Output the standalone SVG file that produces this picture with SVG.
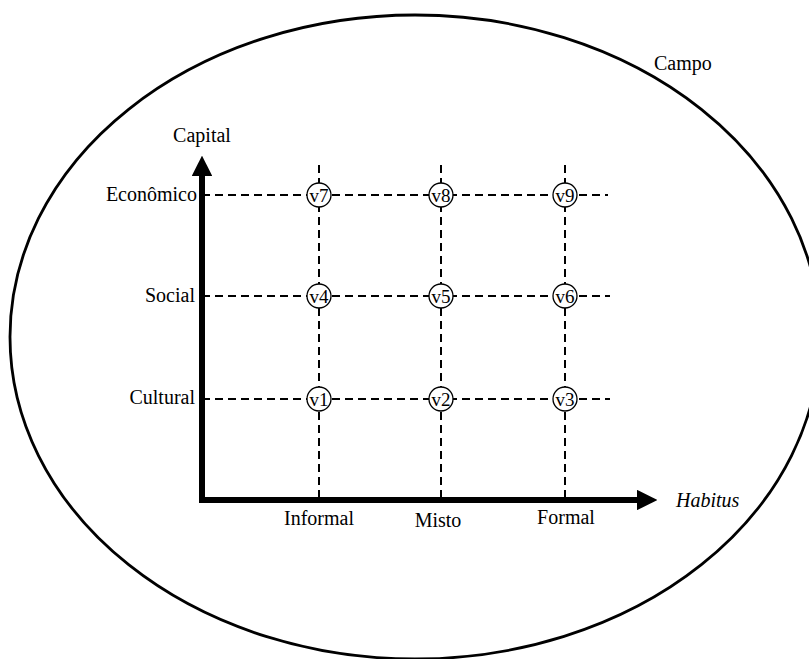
<svg xmlns="http://www.w3.org/2000/svg" width="809" height="659" viewBox="0 0 809 659">
<style>
text{font-family:"Liberation Serif","Times New Roman",serif;font-size:20px;fill:#000}
.dash{stroke:#000;stroke-width:2;stroke-dasharray:8 5;fill:none}
.node circle{fill:#fff;stroke:#000;stroke-width:1.3}
.node text{text-anchor:middle;font-size:19px}
.axis{stroke:#000;stroke-width:6;fill:none}
</style>
<defs>
<marker id="ah" viewBox="0 0 10 10" refX="0" refY="5" markerWidth="3.4" markerHeight="3.4" orient="auto" markerUnits="strokeWidth">
<path d="M0,0 L10,5 L0,10 Z" fill="#000"/>
</marker>
</defs>
<ellipse cx="415" cy="337" rx="405" ry="322" fill="none" stroke="#000" stroke-width="2.8"/>
<text x="654" y="70">Campo</text>
<g id="connectors">
<line class="dash" x1="202" y1="195" x2="608" y2="195"/>
<line class="dash" x1="202" y1="296" x2="610" y2="296"/>
<line class="dash" x1="202" y1="399" x2="610" y2="399"/>
<line class="dash" x1="319" y1="165" x2="319" y2="500"/>
<line class="dash" x1="441" y1="165" x2="441" y2="500"/>
<line class="dash" x1="565" y1="165" x2="565" y2="500"/>
<line class="axis" x1="202" y1="503" x2="202" y2="176" marker-end="url(#ah)"/>
<line class="axis" x1="199" y1="500" x2="637" y2="500" marker-end="url(#ah)"/>
</g>
<text x="202" y="142" text-anchor="middle">Capital</text>
<text x="197" y="201" text-anchor="end">Econômico</text>
<text x="195" y="302" text-anchor="end">Social</text>
<text x="195" y="404" text-anchor="end">Cultural</text>
<text x="319" y="525" text-anchor="middle">Informal</text>
<text x="438" y="527" text-anchor="middle">Misto</text>
<text x="566" y="524" text-anchor="middle">Formal</text>
<text x="676" y="507" font-style="italic">Habitus</text>
<g id="v7" class="node"><circle cx="319" cy="195" r="12"/><text x="319" y="202">v7</text></g>
<g id="v8" class="node"><circle cx="441" cy="195" r="12"/><text x="441" y="202">v8</text></g>
<g id="v9" class="node"><circle cx="565" cy="195" r="12"/><text x="565" y="202">v9</text></g>
<g id="v4" class="node"><circle cx="319" cy="296" r="12"/><text x="319" y="303">v4</text></g>
<g id="v5" class="node"><circle cx="441" cy="296" r="12"/><text x="441" y="303">v5</text></g>
<g id="v6" class="node"><circle cx="565" cy="296" r="12"/><text x="565" y="303">v6</text></g>
<g id="v1" class="node"><circle cx="319" cy="399" r="12"/><text x="319" y="406">v1</text></g>
<g id="v2" class="node"><circle cx="441" cy="399" r="12"/><text x="441" y="406">v2</text></g>
<g id="v3" class="node"><circle cx="565" cy="399" r="12"/><text x="565" y="406">v3</text></g>
</svg>
